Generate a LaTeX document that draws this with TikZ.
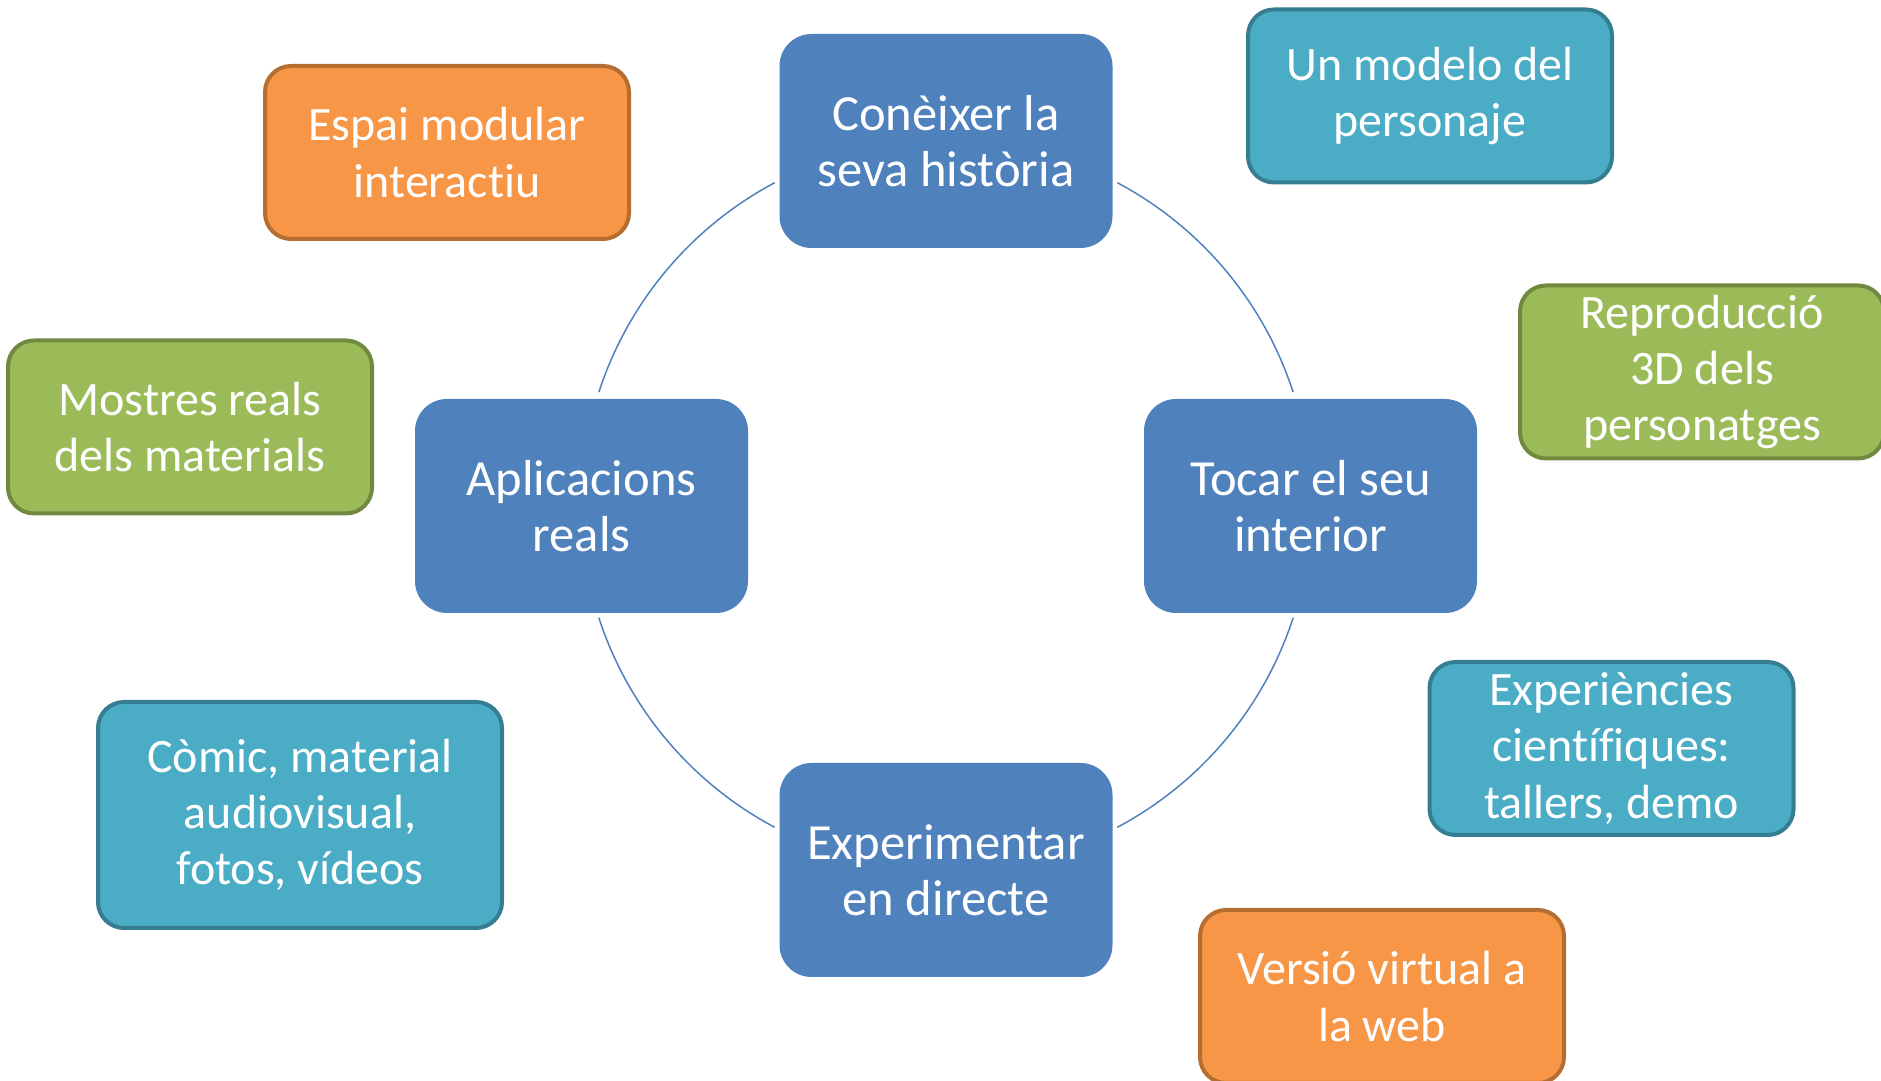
\documentclass[tikz,border=0pt]{standalone}
\usepackage{fontspec}
\setmainfont{Carlito}[Ligatures=NoCommon]

\definecolor{mainblue}{HTML}{4F81BD}
\definecolor{tealfill}{HTML}{4BACC6}
\definecolor{tealline}{HTML}{357D91}
\definecolor{orangefill}{HTML}{F79646}
\definecolor{orangeline}{HTML}{B66D31}
\definecolor{greenfill}{HTML}{9BBB59}
\definecolor{greenline}{HTML}{71893F}

\tikzset{
    mainbox/.style={fill=mainblue, rounded corners=16pt, minimum width=166.5pt, minimum height=107pt,
        text=white, align=center, inner sep=0pt, font=\fontsize{25.3}{28.2}\selectfont},
    sidebox/.style={rounded corners=13pt, line width=2pt, minimum width=182pt, minimum height=86.5pt,
        text=white, align=center, inner sep=0pt, font=\fontsize{24}{28.2}\selectfont},
    teal/.style={sidebox, fill=tealfill, draw=tealline},
    orng/.style={sidebox, fill=orangefill, draw=orangeline},
    grn/.style={sidebox, fill=greenfill, draw=greenline},
    ring/.style={draw=mainblue, line width=0.75pt}
}

\begin{document}
\begin{tikzpicture}[x=0.5pt, y=0.5pt]

    % Page
    \useasboundingbox (0,0) rectangle (1881,1081);

    % Centre of the ring
    \def\r{182.5pt}
    \coordinate (ctr) at (946, 576);

    % Ring, cut at the boxes
    \draw[ring] (ctr) ++(62:\r)  arc[start angle=62,  end angle=18,  radius=\r];
    \draw[ring] (ctr) ++(118:\r) arc[start angle=118, end angle=162, radius=\r];
    \draw[ring] (ctr) ++(198:\r) arc[start angle=198, end angle=242, radius=\r];
    \draw[ring] (ctr) ++(298:\r) arc[start angle=298, end angle=342, radius=\r];

    % Main boxes
    \node[mainbox] (con) at (946, 940)   {Conèixer la\\seva història};
    \node[mainbox] (toc) at (1310.5, 575) {Tocar el seu\\interior};
    \node[mainbox] (apl) at (581.5, 575)  {Aplicacions\\reals};
    \node[mainbox] (exp) at (946, 211)   {Experimentar\\en directe};

    % Side boxes
    \node[orng] (espai)   at (447, 928.5)    {Espai modular\\interactiu};
    \node[teal] (model)   at (1430, 985)     {Un modelo del\\personaje};
    \node[grn]  (repro)   at (1702, 709)     {Reproducció\\3D dels\\personatges};
    \node[grn]  (mostres) at (190, 654)      {Mostres reals\\dels materials};
    \node[teal] (expe)    at (1611.5, 332.5) {Experiències\\científiques:\\tallers, demo};
    \node[teal, minimum width=202pt, minimum height=113pt]
                (comic)   at (300, 266)      {Còmic, material\\audiovisual,\\fotos, vídeos};
    \node[orng] (versio)  at (1382, 84.5)    {Versió virtual a\\la web};

\end{tikzpicture}
\end{document}
